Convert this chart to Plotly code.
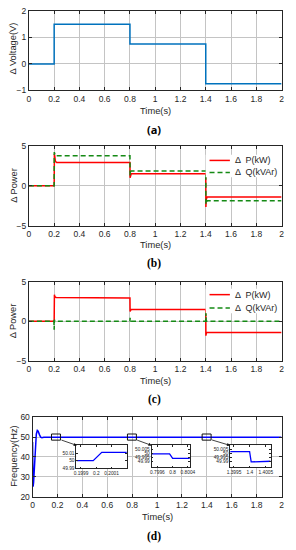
import plotly.graph_objects as go

W, H = 296, 550

# ---------------- data ----------------
x_ticks = [0, 0.2, 0.4, 0.6, 0.8, 1, 1.2, 1.4, 1.6, 1.8, 2]
x_ticklabels = ["0", "0.2", "0.4", "0.6", "0.8", "1", "1.2", "1.4", "1.6", "1.8", "2"]

# (a) voltage step
volt_t = [0, 0.2, 0.8, 1.4, 2.0]
volt_v = [0, 1.5, 0.75, -0.75, -0.75]
volt_ticks = [-1, 0, 1, 2]

# (b) power
pb_t = [0, 0.2, 0.202, 0.205, 0.21, 0.22, 0.8, 0.801, 0.804, 0.81, 1.4, 1.401, 1.404, 1.41, 2.0]
pb_p = [0, 0, 4.0, 3.3, 3.05, 2.9, 2.9, 1.0, 1.35, 1.5, 1.5, -2.65, -1.7, -1.4, -1.4]
qb_t = [0, 0.2, 0.201, 0.204, 0.21, 0.8, 0.801, 0.804, 0.81, 1.4, 1.401, 1.404, 1.41, 2.0]
qb_q = [0, 0, 4.2, 3.8, 3.75, 3.75, 1.3, 1.75, 1.85, 1.85, -2.3, -1.95, -1.85, -1.85]

# (c) power
pc_t = [0, 0.2, 0.202, 0.205, 0.215, 0.8, 0.801, 0.804, 0.81, 1.4, 1.401, 1.404, 1.41, 2.0]
pc_p = [0, 0, 3.35, 3.1, 3.0, 2.95, 1.25, 1.45, 1.5, 1.5, -1.8, -1.5, -1.4, -1.4]
qc_t = [0, 0.198, 0.2, 0.202, 0.205, 0.21, 0.8, 0.801, 0.803, 1.4, 1.401, 1.403, 1.41, 2.0]
qc_q = [0, 0, -1.05, 0.2, 0, 0, 0, 0.45, 0, 0, 1.1, 0.1, 0, 0]
power_ticks = [-5, 0, 5]
legend_names = ["Δ  P(kW)", "Δ  Q(kVAr)"]

# (d) frequency
freq_t = [0, 0.001, 0.004, 0.008, 0.015, 0.022, 0.03, 0.038, 0.045, 0.055, 0.065, 0.075, 0.09, 2.0]
freq_f = [47.5, 33, 25, 27, 36, 45, 51.5, 53.4, 53, 51.3, 50, 49.7, 50, 50]
freq_ticks = [20, 30, 40, 50, 60]

# insets of (d)
in1_t = [0.19987, 0.19998, 0.200036, 0.2002]
in1_f = [50.0, 50.0, 50.0114, 50.0114]
in1_xt = [0.1999, 0.2, 0.2001]
in1_yt = [49.99, 50, 50.01]
in1_yr = [49.99, 50.021]

in2_t = [0.79945, 0.79992, 0.8, 0.80045]
in2_f = [49.9995, 49.9995, 49.994, 49.994]
in2_xt = [0.7996, 0.8, 0.8004]
in2_yt = [49.99, 49.995, 50, 50.005]
in2_yr = [49.983, 50.0098]

in3_t = [1.39938, 1.39999, 1.40004, 1.4004, 1.40065]
in3_f = [50.0021, 50.0021, 49.9897, 49.9903, 49.9905]
in3_xt = [1.3995, 1.4, 1.4005]
in3_yt = [49.99, 49.995, 50, 50.005]
in3_yr = [49.983, 50.0098]

# ---------------- helpers ----------------
def px(x):
    return x / W

def py(y):
    return 1 - y / H

FONT = "Liberation Sans"
AXC = "#262626"
GRID = "#c4c4c4"
RED = "#FF0000"
GREEN = "#158A15"
DASH = "5px,3px"

def axis_style(**kw):
    d = dict(showline=True, linecolor=AXC, linewidth=1, mirror="ticks",
             showgrid=True, gridcolor=GRID, gridwidth=1, zeroline=False,
             ticks="inside", ticklen=3, tickcolor=AXC,
             tickfont=dict(family=FONT, size=8.5, color=AXC))
    d.update(kw)
    return d

def inset_style(**kw):
    d = dict(showline=True, linecolor=AXC, linewidth=0.8, mirror="ticks",
             showgrid=False, zeroline=False, ticks="inside", ticklen=1.5,
             tickcolor=AXC, tickfont=dict(family=FONT, size=4.8, color=AXC),
             ticklabelstandoff=0)
    d.update(kw)
    return d

fig = go.Figure()

# (a)
fig.add_trace(go.Scatter(x=volt_t, y=volt_v, mode="lines", line=dict(color="#0072BD", width=1.5, shape="hv"),
                         xaxis="x", yaxis="y", showlegend=False))
# (b)
fig.add_trace(go.Scatter(x=pb_t, y=pb_p, mode="lines", name=legend_names[0], line=dict(color=RED, width=1.5),
                         xaxis="x2", yaxis="y2", showlegend=False))
fig.add_trace(go.Scatter(x=qb_t, y=qb_q, mode="lines", name=legend_names[1],
                         line=dict(color=GREEN, width=1.5, dash=DASH),
                         xaxis="x2", yaxis="y2", showlegend=False))
# (c)
fig.add_trace(go.Scatter(x=pc_t, y=pc_p, mode="lines", name=legend_names[0], line=dict(color=RED, width=1.5),
                         xaxis="x3", yaxis="y3", showlegend=False))
fig.add_trace(go.Scatter(x=qc_t, y=qc_q, mode="lines", name=legend_names[1],
                         line=dict(color=GREEN, width=1.5, dash=DASH),
                         xaxis="x3", yaxis="y3", showlegend=False))
# (d)
fig.add_trace(go.Scatter(x=freq_t, y=freq_f, mode="lines", line=dict(color="#0000FF", width=1.5),
                         xaxis="x4", yaxis="y4", showlegend=False))
insets = [(in1_t, in1_f, in1_xt, in1_yt, in1_yr), (in2_t, in2_f, in2_xt, in2_yt, in2_yr),
          (in3_t, in3_f, in3_xt, in3_yt, in3_yr)]
for i, (tt, ff, _, _, _) in enumerate(insets):
    fig.add_trace(go.Scatter(x=tt, y=ff, mode="lines", line=dict(color="#0000FF", width=1.3),
                             xaxis=f"x{5+i}", yaxis=f"y{5+i}", showlegend=False))

xd_abc = [px(26.7), px(287.3)]
xd_d = [px(30.5), px(287.3)]
inset_xdom = [(75.7, 127.7), (153.3, 192.7), (234.3, 276)]
inset_ydom = [(471.5, 448.5), (471, 448.5), (471, 448.5)]

layout = dict(
    width=W, height=H, margin=dict(l=0, r=0, t=0, b=0),
    paper_bgcolor="white", plot_bgcolor="white", showlegend=False,
    xaxis=axis_style(domain=xd_abc, range=[0, 2], tickvals=x_ticks, ticktext=x_ticklabels, anchor="y"),
    yaxis=axis_style(domain=[py(87), py(6)], range=[-1, 2], tickvals=volt_ticks, anchor="x"),
    xaxis2=axis_style(domain=xd_abc, range=[0, 2], tickvals=x_ticks, ticktext=x_ticklabels, anchor="y2"),
    yaxis2=axis_style(domain=[py(225), py(143.3)], range=[-5, 5], tickvals=power_ticks, anchor="x2"),
    xaxis3=axis_style(domain=xd_abc, range=[0, 2], tickvals=x_ticks, ticktext=x_ticklabels, anchor="y3"),
    yaxis3=axis_style(domain=[py(362.7), py(281.7)], range=[-5, 5], tickvals=power_ticks, anchor="x3"),
    xaxis4=axis_style(domain=xd_d, range=[0, 2], tickvals=x_ticks, ticktext=x_ticklabels, anchor="y4"),
    yaxis4=axis_style(domain=[py(500.7), py(420)], range=[20, 60], tickvals=freq_ticks, anchor="x4"),
)
for i, (tt, ff, xt, yt, yr) in enumerate(insets):
    k = 5 + i
    layout[f"xaxis{k}"] = inset_style(domain=[px(inset_xdom[i][0]), px(inset_xdom[i][1])], range=[tt[0], tt[-1]],
                                      tickvals=xt, ticktext=[str(v) for v in xt], anchor=f"y{k}")
    layout[f"yaxis{k}"] = inset_style(domain=[py(inset_ydom[i][0]), py(inset_ydom[i][1])], range=yr,
                                      tickvals=yt, ticktext=[str(v) for v in yt], anchor=f"x{k}")
fig.update_layout(**layout)

shapes = []
# white backgrounds for insets (drawn inside each inset subplot, above the main panel)
for i, (tt, ff, xt, yt, yr) in enumerate(insets):
    k = 5 + i
    shapes.append(dict(type="rect", xref=f"x{k}", yref=f"y{k}", x0=tt[0], x1=tt[-1], y0=yr[0], y1=yr[1],
                       fillcolor="white", line=dict(width=0), layer="below"))
# zoom markers on main (d)
for cx in (0.188, 0.798, 1.398):
    shapes.append(dict(type="rect", xref="x4", yref="y4", x0=cx - 0.036, x1=cx + 0.036, y0=48.5, y1=51.6,
                       line=dict(color="#111111", width=1), fillcolor="rgba(0,0,0,0)", layer="above"))

ann = []

def legend_box(y_top, y_bot, rows):
    shapes.append(dict(type="rect", xref="paper", yref="paper", x0=px(209), x1=px(286.6), y0=py(y_bot), y1=py(y_top),
                       fillcolor="white", line=dict(width=0), layer="above"))
    for (yy, color, dash, name) in rows:
        shapes.append(dict(type="line", xref="paper", yref="paper", x0=px(213), x1=px(234), y0=py(yy), y1=py(yy),
                           line=dict(color=color, width=1.5, dash=dash), layer="above"))
        ann.append(dict(xref="paper", yref="paper", x=px(237.5), y=py(yy), text=name, showarrow=False,
                        xanchor="left", yanchor="middle", font=dict(family=FONT, size=9, color=AXC)))

legend_box(152.5, 175.5, [(158.3, RED, "solid", legend_names[0]), (170.5, GREEN, DASH, legend_names[1])])
legend_box(289, 314, [(295, RED, "solid", legend_names[0]), (308.5, GREEN, DASH, legend_names[1])])

# arrows
for tail, tip in [((59.3, 442.7), (76.2, 448.6)), ((137.3, 442.7), (153.3, 448.6)), ((214.7, 442.7), (234.3, 448.6))]:
    ann.append(dict(xref="paper", yref="paper", x=px(tip[0]), y=py(tip[1]), ax=tail[0] - tip[0], ay=tail[1] - tip[1],
                    showarrow=True, arrowhead=2, arrowsize=0.8, arrowwidth=0.8, arrowcolor="#111111", text=""))

def txt(x, y, s, size=9.3, angle=0, family=FONT, color=AXC, bold=False):
    ann.append(dict(xref="paper", yref="paper", x=px(x), y=py(y), text=(f"<b>{s}</b>" if bold else s),
                    showarrow=False, textangle=angle, xanchor="center", yanchor="middle",
                    font=dict(family=family, size=size, color=color)))

# axis titles
txt(157, 108, "Time(s)")
txt(157, 244, "Time(s)")
txt(157, 383, "Time(s)")
txt(159, 521, "Time(s)")
txt(10.5, 44, "Δ Voltage(V)", angle=-90)
txt(10.5, 184, "Δ Power", angle=-90)
txt(10.5, 322, "Δ Power", angle=-90)
txt(10.5, 460, "Frequency(Hz)", angle=-90)
# panel captions
txt(156, 127, "(a)", size=11, family="Open Sans", color="black", bold=True)
txt(156, 263, "(b)", size=11.5, family="Liberation Serif", color="black", bold=True)
txt(156, 402, "(c)", size=11.5, family="Liberation Serif", color="black", bold=True)
txt(156, 541, "(d)", size=11.5, family="Liberation Serif", color="black", bold=True)

fig.update_layout(shapes=shapes, annotations=ann)

fig.write_html("out.html", config={"displayModeBar": False},
               post_script="document.body.style.margin='0px';document.body.style.overflow='hidden';")
